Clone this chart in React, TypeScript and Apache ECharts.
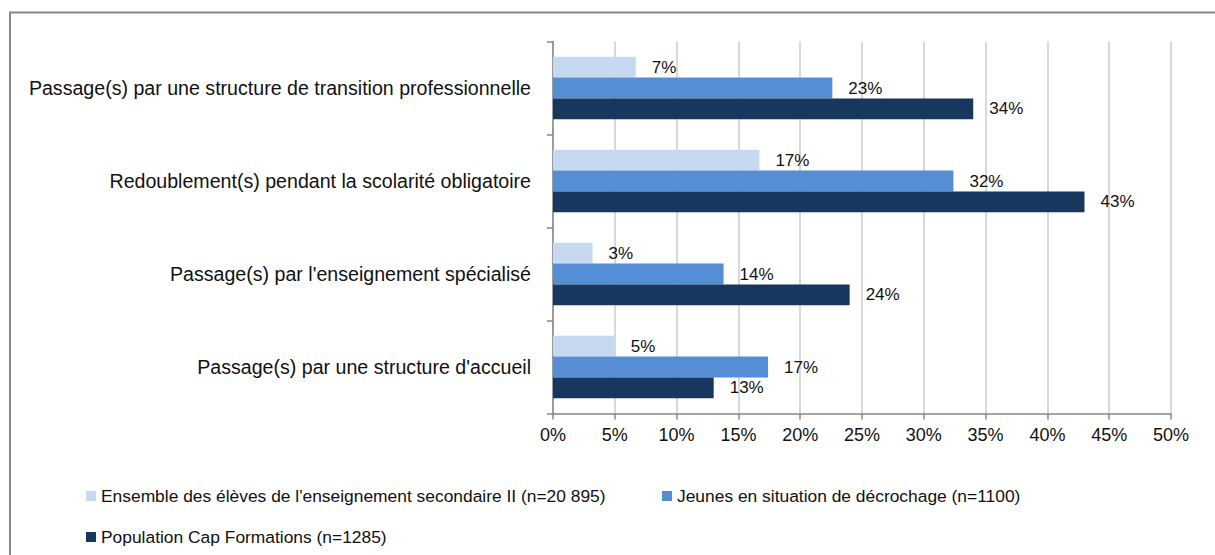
import React, { useEffect, useRef } from "react";
import * as echarts from "echarts";

const categories = [
  "Passage(s) par une structure de transition professionnelle",
  "Redoublement(s) pendant la scolarité obligatoire",
  "Passage(s) par l'enseignement spécialisé",
  "Passage(s) par une structure d'accueil",
];
const seriesNames = [
  "Ensemble des élèves de l'enseignement secondaire II (n=20 895)",
  "Jeunes en situation de décrochage (n=1100)",
  "Population Cap Formations (n=1285)",
];
const ensemble = [6.7, 16.7, 3.2, 5.0];
const jeunes = [22.6, 32.4, 13.8, 17.4];
const capFormations = [34.0, 43.0, 24.0, 13.0];
const colors = ["#c6d9f1", "#558ed5", "#17375e"];

const FONT = "'Liberation Sans Narrow', 'Arial Narrow', 'Liberation Sans', Arial, sans-serif";

export default function App() {
  const ref = useRef<HTMLDivElement>(null);
  useEffect(() => {
    if (!ref.current) return;
    const chart = echarts.init(ref.current, null, { renderer: "svg" });
    const values = [ensemble, jeunes, capFormations];
    const legendPos = [
      { left: 86, top: 486 },
      { left: 662, top: 486 },
      { left: 86, top: 527 },
    ];
    chart.setOption({
      animation: false,
      backgroundColor: "#ffffff",
      grid: { left: 553, right: 44, top: 41.5, bottom: 141.5 },
      xAxis: {
        type: "value",
        min: 0,
        max: 50,
        interval: 5,
        axisLine: { show: true, lineStyle: { color: "#868686", width: 1.5 } },
        axisTick: { show: true, length: 6, lineStyle: { color: "#868686", width: 1.5 } },
        axisLabel: {
          formatter: (v: number) => `${v}%`,
          color: "#111",
          fontFamily: FONT,
          fontSize: 18,
          margin: 12,
        },
        splitLine: { show: true, lineStyle: { color: "#d9d9d9", width: 2 } },
      },
      yAxis: {
        type: "category",
        data: categories,
        inverse: true,
        axisLine: { show: true, lineStyle: { color: "#868686", width: 1.5 } },
        axisTick: { show: true, length: 6, lineStyle: { color: "#868686", width: 1.5 } },
        axisLabel: {
          color: "#111",
          fontFamily: FONT,
          fontSize: 19.6,
          margin: 22,
        },
      },
      legend: seriesNames.map((n, i) => ({
        data: [n],
        left: legendPos[i].left,
        top: legendPos[i].top,
        padding: 0,
        itemWidth: 10,
        itemHeight: 10,
        icon: "rect",
        itemGap: 0,
        textStyle: { fontFamily: FONT, fontSize: 17.4, color: "#111", lineHeight: 20 },
      })),
      graphic: [
        {
          type: "rect",
          shape: { x: 10, y: 12.5, width: 1400, height: 800 },
          style: { fill: "none", stroke: "#898989", lineWidth: 2 },
          silent: true,
        },
      ],
      series: seriesNames.map((n, i) => ({
        name: n,
        type: "bar",
        data: values[i],
        barWidth: 20.8,
        barGap: "0%",
        itemStyle: { color: colors[i] },
        label: {
          show: true,
          position: "right",
          distance: 16,
          formatter: (p: any) => `${Math.round(p.value)}%`,
          color: "#111",
          fontFamily: FONT,
          fontSize: 17,
        },
      })),
    });
    return () => chart.dispose();
  }, []);
  return (
    <div
      ref={ref}
      style={{ position: "fixed", left: 0, top: 0, width: 1215, height: 555 }}
    />
  );
}
